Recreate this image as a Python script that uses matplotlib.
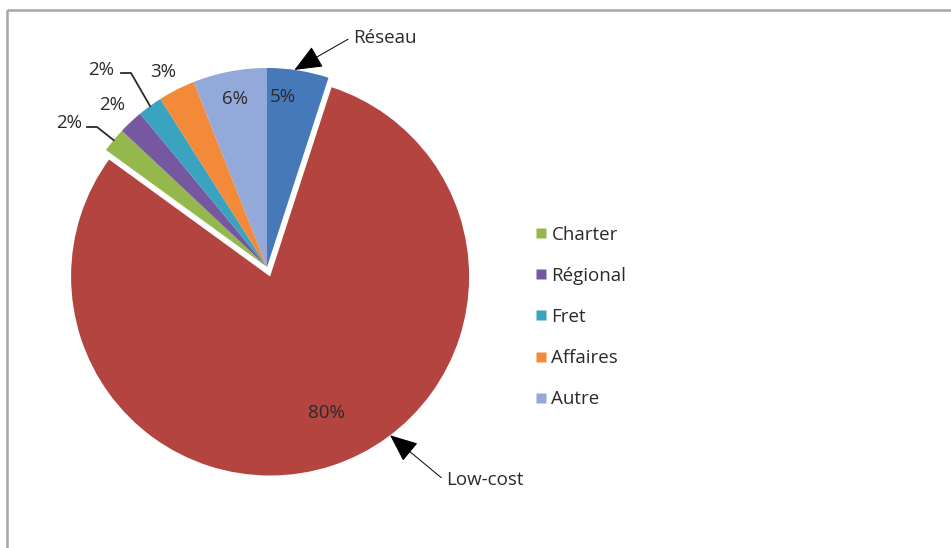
import numpy as np
import matplotlib
matplotlib.use("Agg")
import matplotlib.pyplot as plt
from matplotlib.lines import Line2D
from matplotlib.patches import Rectangle

plt.rcParams['font.family'] = ['Open Sans', 'DejaVu Sans']

# Market share by airline segment
segments = ['Réseau', 'Low-cost', 'Charter', 'Régional', 'Fret', 'Affaires', 'Autre']
shares = [5, 80, 2, 2, 2, 3, 6]
colors = ['#4679B9', '#B3443F', '#94B84C', '#7558A0', '#3AA3C0', '#F28A3A', '#93A9D9']
legend_segments = ['Charter', 'Régional', 'Fret', 'Affaires', 'Autre']

W, H = 951, 548
fig = plt.figure(figsize=(W / 100, H / 100), dpi=100)
ax = fig.add_axes([0, 0, 1, 1])
ax.set_xlim(0, W)
ax.set_ylim(H, 0)
ax.set_aspect('equal')
ax.axis('off')

center = (267, 267)
radius = 199
explode = [0, 10, 0, 0, 0, 0, 0]

# y axis is inverted, so counterclockwise in data space runs clockwise on screen
wedges, _ = ax.pie(shares, colors=colors, startangle=-90, counterclock=True,
                   center=center, radius=radius, explode=explode,
                   wedgeprops=dict(linewidth=0))
ax.set_xlim(0, W)
ax.set_ylim(H, 0)

total = float(sum(shares))
cum = np.cumsum([0] + shares) / total


def point(frac, r, c=center):
    th = np.deg2rad(-90 + 360 * frac)
    return c[0] + r * np.cos(th), c[1] + r * np.sin(th)


def mid(i):
    return 0.5 * (cum[i] + cum[i + 1])


FS = 13.5
TC = '#2a2a2a'
txt = dict(fontsize=FS, color=TC, ha='center', va='center')

# Percentage labels inside the large slices
lowcost_center = point(mid(1), explode[1])
for i, frac, dist, c in [(0, mid(0) - 0.01, 0.86, center),
                         (6, mid(6), 0.86, center),
                         (1, mid(1) - 0.012, 0.74, lowcost_center)]:
    x, y = point(frac, dist * radius, c)
    ax.text(x, y, f"{shares[i]}%", **txt)

# Outside labels for the thin slices, with leader lines
ax.text(163, 72, f"{shares[5]}%", **txt)
ax.text(112, 105, f"{shares[3]}%", **txt)

ax.text(101, 70, f"{shares[4]}%", **txt)
ex, ey = point(mid(4), radius)
ax.add_line(Line2D([121, 131, ex], [73, 73, ey], color=TC, lw=1.3))

ax.text(69, 123, f"{shares[2]}%", **txt)
ex, ey = point(mid(2), radius)
ax.add_line(Line2D([87, 97, ex], [127, 127, ey], color=TC, lw=1.3))

# Callouts naming the two main segments
arrow = dict(arrowstyle='-|>,head_length=1.3,head_width=0.55', color='black',
             lw=0.7, shrinkA=2, shrinkB=0)
ax.annotate('Réseau', xy=point(mid(0) - 0.003, radius), xytext=(385, 38),
            fontsize=FS, color=TC, ha='center', va='center',
            arrowprops=dict(arrow, relpos=(0, 0.6)))
ax.annotate('Low-cost', xy=point(0.397, radius, lowcost_center), xytext=(485, 480),
            fontsize=FS, color=TC, ha='center', va='center',
            arrowprops=dict(arrow, relpos=(0, 0.4)))

# Legend for the minor segments
handles = [Line2D([], [], marker='s', ls='', ms=7.5, mec='none',
                  mfc=colors[segments.index(s)]) for s in legend_segments]
ax.legend(handles, legend_segments, loc='upper left',
          bbox_to_anchor=(528 / W, 1 - 218 / H), frameon=False,
          fontsize=FS, labelcolor=TC, handlelength=0.55,
          handletextpad=0.3, labelspacing=1.24, borderaxespad=0)

# Chart area border
ax.add_patch(Rectangle((7, 10), 2000, 2000, fill=False, ec='#a6a6a6', lw=1.8,
                       clip_on=True))

fig.savefig('out.png', dpi=100)
